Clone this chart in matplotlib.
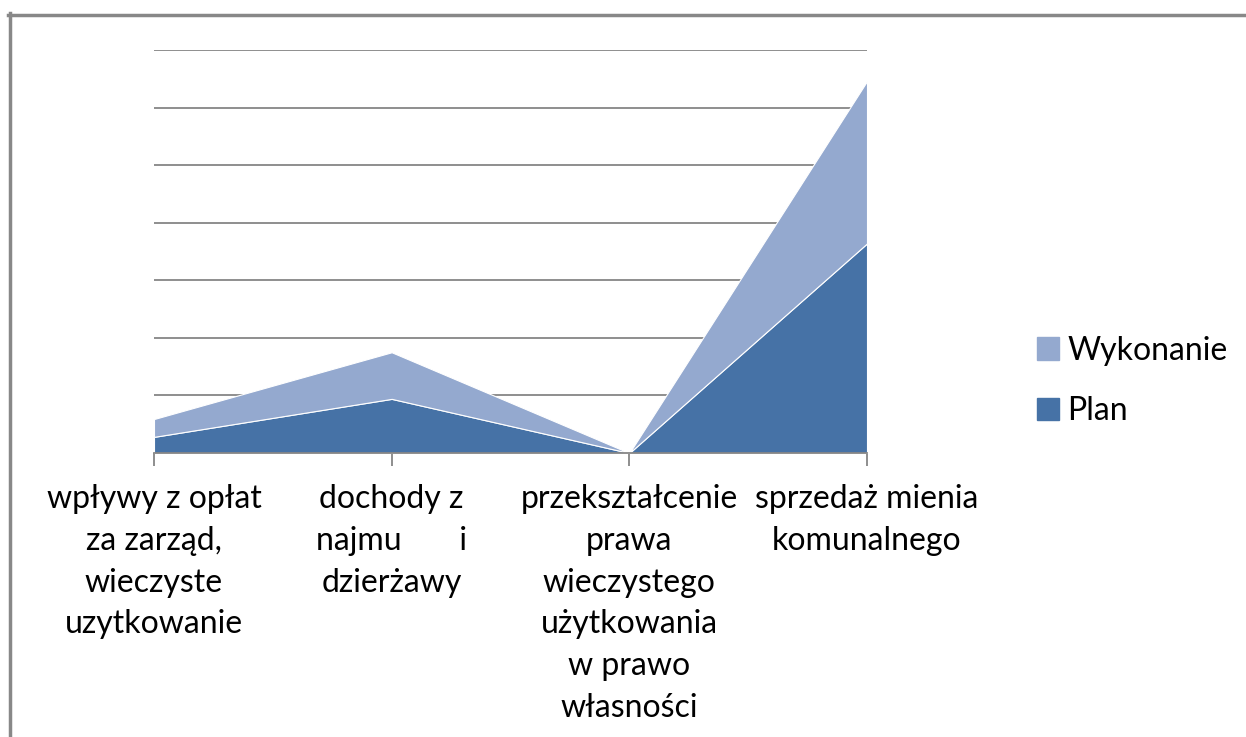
import matplotlib
matplotlib.use("Agg")
import matplotlib.pyplot as plt
from matplotlib.lines import Line2D
from matplotlib.patches import Rectangle

categories = [
    "wpływy z opłat\nza zarząd,\nwieczyste\nuzytkowanie",
    "dochody z\nnajmu       i\ndzierżawy",
    "przekształcenie\nprawa\nwieczystego\nużytkowania\nw prawo\nwłasności",
    "sprzedaż mienia\nkomunalnego",
]
plan = [0.28, 0.94, 0.0, 3.64]
wykonanie = [0.31, 0.81, 0.0, 2.82]
series_names = ["Plan", "Wykonanie"]
colors = ["#4672A6", "#94A9CF"]

W, H = 1246, 737
fig = plt.figure(figsize=(W / 100, H / 100), dpi=100)
fig.patch.set_facecolor("white")
font = ["Lato", "DejaVu Sans"]

def fx(px):
    return px / W

def fy(py):
    return 1 - py / H

ax = fig.add_axes([fx(154), fy(453), fx(867) - fx(154), fy(50) - fy(453)])
x = list(range(len(categories)))
ax.stackplot(x, plan, wykonanie, colors=colors, labels=series_names,
             edgecolor="white", linewidth=0.8, zorder=3)
ax.set_xlim(0, len(categories) - 1)
ax.set_ylim(0, 7)
ax.set_yticks(range(1, 8))
ax.yaxis.grid(True, color="#868686", linewidth=1.3, zorder=1)
ax.set_axisbelow(True)
ax.tick_params(axis="y", length=0, labelleft=False)
for s in ["top", "right", "left"]:
    ax.spines[s].set_visible(False)
ax.spines["bottom"].set_color("#868686")
ax.spines["bottom"].set_linewidth(1.3)
ax.spines["bottom"].set_zorder(4)
ax.set_xticks(x)
ax.set_xticklabels([])
ax.tick_params(axis="x", length=9, width=1.3, color="#868686")
for xi, lab in zip(x, categories):
    ax.annotate(lab, xy=(xi, 0), xycoords=("data", "axes fraction"),
                xytext=(0, -31), textcoords="offset pixels",
                ha="center", va="top", fontsize=23, family=font,
                color="#000000", linespacing=1.49)
ax.set_facecolor("white")

# legend
handles = [Rectangle((0, 0), 1, 1, color=colors[1]), Rectangle((0, 0), 1, 1, color=colors[0])]
fig.legend(handles, [series_names[1], series_names[0]], loc="center left",
           bbox_to_anchor=(fx(1037), fy(381)), frameon=False,
           prop={"family": font, "size": 23}, handlelength=0.7, handleheight=0.7,
           handletextpad=0.25, labelspacing=0.95, borderaxespad=0, borderpad=0)

# outer frame
fig.add_artist(Line2D([fx(9.5), fx(9.5)], [0, fy(13)], color="#888888", linewidth=2.5,
                      transform=fig.transFigure))
fig.add_artist(Line2D([fx(8.3), 1], [fy(14.5), fy(14.5)], color="#888888", linewidth=2.5,
                      transform=fig.transFigure))

fig.savefig("out.png", dpi=100, facecolor="white")
